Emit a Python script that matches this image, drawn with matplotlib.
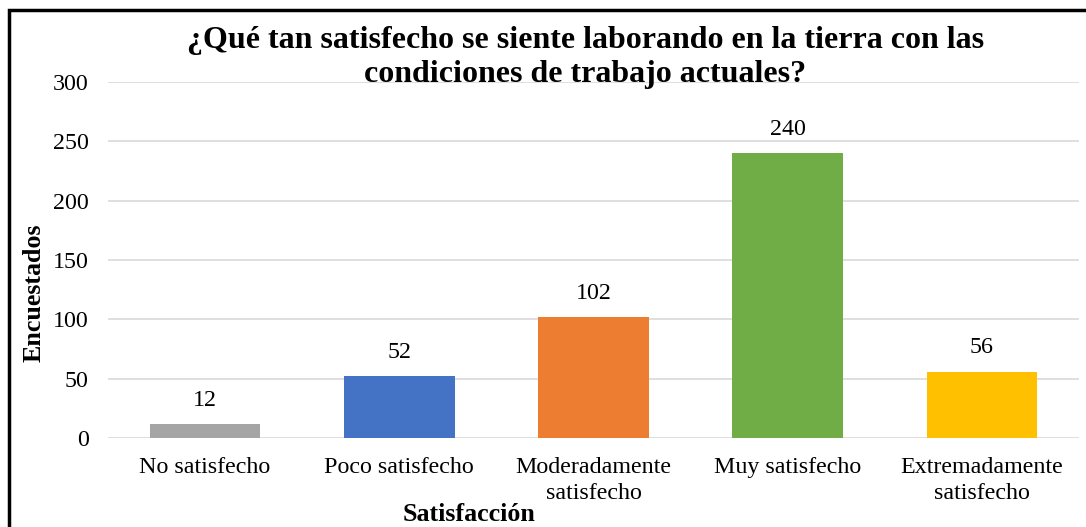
import matplotlib.pyplot as plt
from matplotlib.patches import Rectangle

categories = ["No satisfecho", "Poco satisfecho", "Moderadamente\nsatisfecho",
              "Muy satisfecho", "Extremadamente\nsatisfecho"]
values = [12, 52, 102, 240, 56]
colors = ["#A5A5A5", "#4472C4", "#ED7D31", "#70AD47", "#FFC000"]
yticks = [0, 50, 100, 150, 200, 250, 300]

plt.rcParams['font.family'] = ['Liberation Serif', 'DejaVu Serif']

fig = plt.figure(figsize=(10.86, 5.27), dpi=100)
ax = fig.add_axes([0.0994, 0.1689, 0.8942, 0.6755])

x = range(len(categories))
bars = ax.bar(x, values, width=0.57, color=colors, zorder=3)
for xi, v in zip(x, values):
    ax.text(xi, v + 11, str(v), ha='center', va='bottom', fontsize=17.3)

ax.set_xlim(-0.5, len(categories) - 0.5)
ax.set_ylim(0, 300)
ax.set_yticks(yticks)
ax.set_xticks(list(x))
ax.set_xticklabels(categories, fontsize=17.3, linespacing=1.3)
ax.tick_params(axis='y', labelsize=17.3, length=0, pad=14)
ax.tick_params(axis='x', length=0, pad=14)
ax.yaxis.grid(True, color='#D9D9D9', linewidth=1.2, zorder=0)
for s in ax.spines.values():
    s.set_visible(False)

fig.text(0.539, 0.891, "¿Qué tan satisfecho se siente laborando en la tierra con las\ncondiciones de trabajo actuales?",
         ha='center', va='center', fontsize=23, fontweight='bold', linespacing=1.26)
fig.text(0.031, 0.444, "Encuestados", rotation=90, ha='center', va='center',
         fontsize=18.7, fontweight='bold')
fig.text(0.432, 0.024, "Satisfacción", ha='center', va='center',
         fontsize=18.7, fontweight='bold')

# frame (cropped on right and bottom in the original)
fig.add_artist(Rectangle((0.0083, -0.05), 1.2, 1.031, transform=fig.transFigure,
                         fill=False, edgecolor='black', linewidth=2.5))

fig.savefig("out.png", dpi=100)
